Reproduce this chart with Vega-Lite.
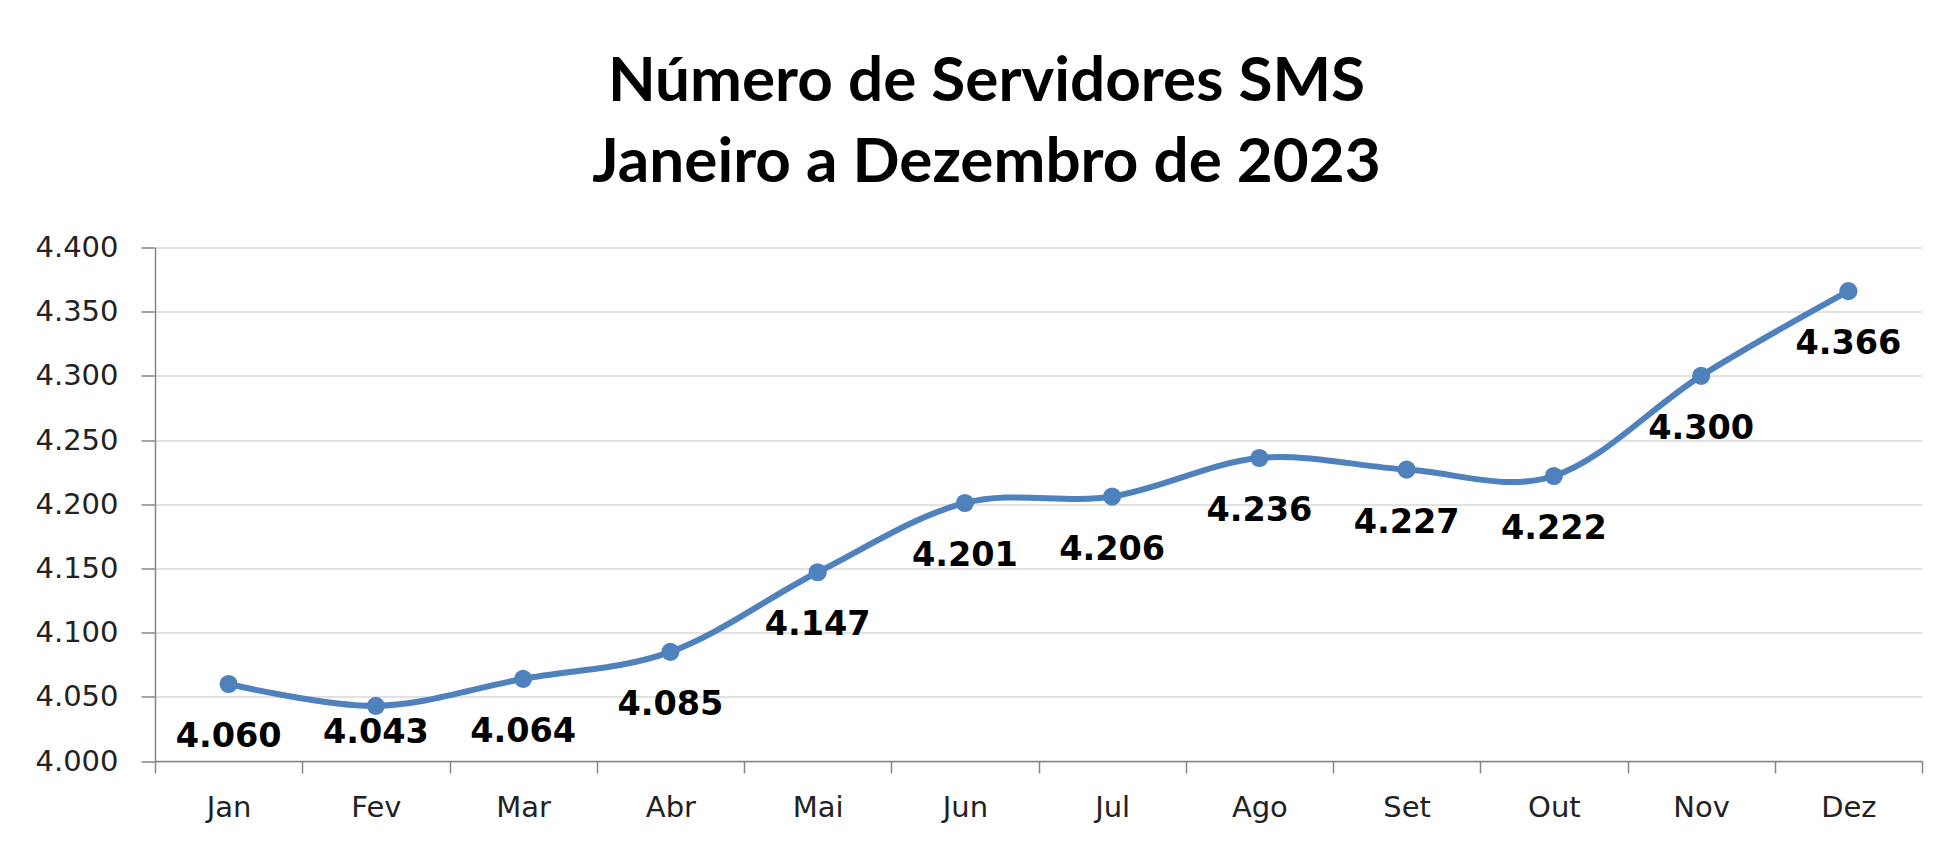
{
  "$schema": "https://vega.github.io/schema/vega-lite/v6.json",
  "autosize": "none",
  "width": 1767,
  "height": 513.5,
  "padding": {"left": 155, "top": 247.5, "right": 22, "bottom": 88},
  "background": "white",
  "config": {
    "locale": {"number": {"decimal": ",", "thousands": ".", "grouping": [3], "currency": ["R$", ""]}},
    "view": {"stroke": null}
  },
  "title": {
    "text": ["Número de Servidores SMS", "Janeiro a Dezembro de 2023"],
    "font": "Lato",
    "fontSize": 62,
    "fontWeight": "bold",
    "color": "#000000",
    "anchor": "middle",
    "frame": "group",
    "dx": -52,
    "offset": 39,
    "lineHeight": 81
  },
  "data": {
    "values": [
      {"mes": "Jan", "servidores": 4060},
      {"mes": "Fev", "servidores": 4043},
      {"mes": "Mar", "servidores": 4064},
      {"mes": "Abr", "servidores": 4085},
      {"mes": "Mai", "servidores": 4147},
      {"mes": "Jun", "servidores": 4201},
      {"mes": "Jul", "servidores": 4206},
      {"mes": "Ago", "servidores": 4236},
      {"mes": "Set", "servidores": 4227},
      {"mes": "Out", "servidores": 4222},
      {"mes": "Nov", "servidores": 4300},
      {"mes": "Dez", "servidores": 4366}
    ]
  },
  "encoding": {
    "x": {
      "field": "mes",
      "type": "nominal",
      "sort": null,
      "scale": {"type": "band", "paddingInner": 0, "paddingOuter": 0},
      "axis": {
        "title": null,
        "tickBand": "extent",
        "labelAngle": 0,
        "labelFont": "DejaVu Sans",
        "labelFontSize": 29,
        "labelColor": "#222222",
        "labelPadding": 20,
        "tickSize": 12,
        "tickColor": "#868686",
        "tickWidth": 1.5,
        "domainColor": "#868686",
        "domainWidth": 1.5,
        "grid": false
      }
    },
    "y": {
      "field": "servidores",
      "type": "quantitative",
      "scale": {"domain": [4000, 4400], "zero": false},
      "axis": {
        "title": null,
        "values": [4000, 4050, 4100, 4150, 4200, 4250, 4300, 4350, 4400],
        "format": ",d",
        "labelFont": "DejaVu Sans",
        "labelFontSize": 29,
        "labelColor": "#222222",
        "labelPadding": 23,
        "tickSize": 14,
        "tickColor": "#868686",
        "tickWidth": 1.5,
        "domainColor": "#868686",
        "domainWidth": 1.5,
        "grid": true,
        "gridColor": "#d9d9d9",
        "gridWidth": 1.5
      }
    }
  },
  "layer": [
    {
      "mark": {"type": "line", "interpolate": "cardinal", "color": "#4f81bd", "strokeWidth": 6}
    },
    {
      "mark": {"type": "point", "filled": true, "color": "#4f81bd", "opacity": 1, "size": 330}
    },
    {
      "transform": [{"filter": "datum.servidores >= 4050"}],
      "mark": {"type": "text", "font": "DejaVu Sans", "fontWeight": "bold", "fontSize": 33.5, "color": "#000000", "baseline": "middle", "dy": 53},
      "encoding": {
        "text": {"field": "servidores", "type": "quantitative", "format": ",d"}
      }
    },
    {
      "transform": [{"filter": "datum.servidores < 4050"}],
      "mark": {"type": "text", "font": "DejaVu Sans", "fontWeight": "bold", "fontSize": 33.5, "color": "#000000", "baseline": "middle", "dy": 27},
      "encoding": {
        "text": {"field": "servidores", "type": "quantitative", "format": ",d"}
      }
    }
  ]
}
